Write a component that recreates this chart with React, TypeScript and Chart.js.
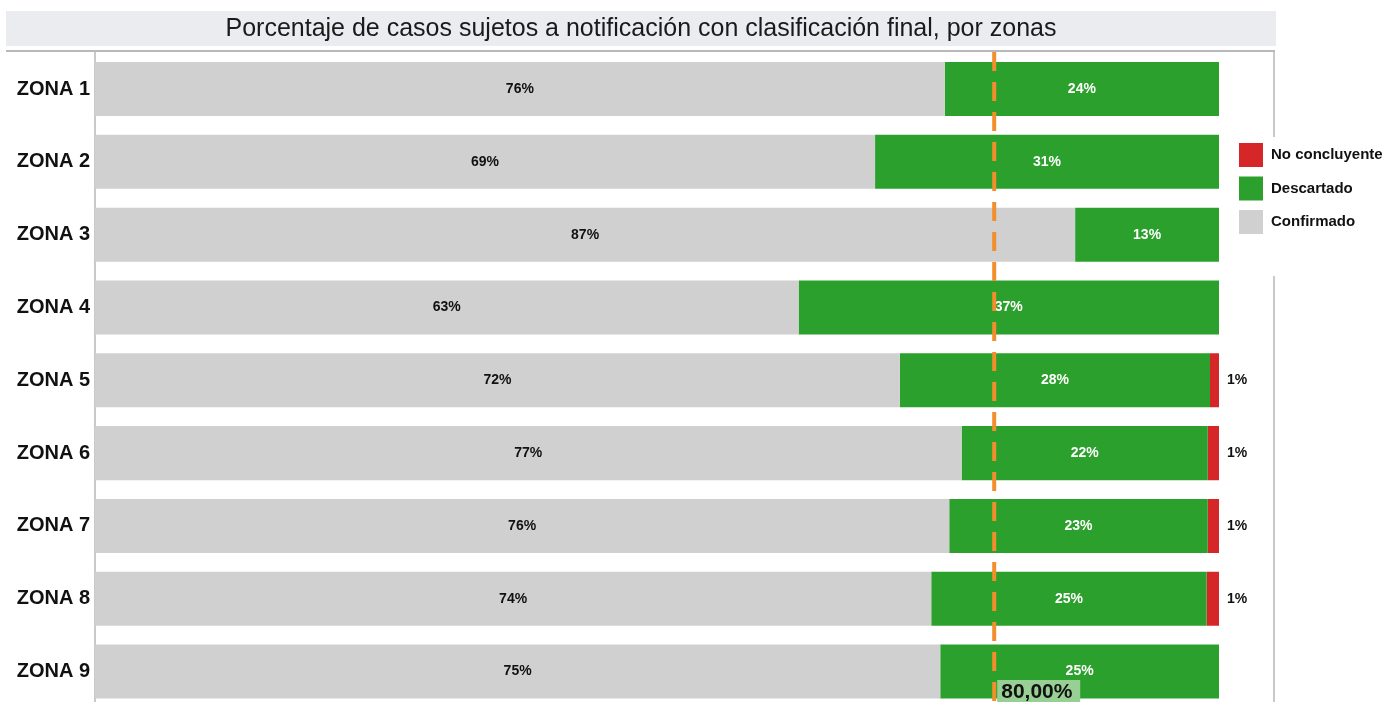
import React, { useEffect, useRef } from "react";
import { Chart, registerables } from "chart.js";

Chart.register(...registerables);

const TITLE = "Porcentaje de casos sujetos a notificación con clasificación final, por zonas";
const zones = ["ZONA 1", "ZONA 2", "ZONA 3", "ZONA 4", "ZONA 5", "ZONA 6", "ZONA 7", "ZONA 8", "ZONA 9"];
const confirmado = [75.6, 69.4, 87.2, 62.6, 71.6, 77.1, 76.0, 74.4, 75.2];
const descartado = [24.4, 30.6, 12.8, 37.4, 27.6, 21.9, 23.0, 24.5, 24.8];
const noConcluyente = [0, 0, 0, 0, 0.8, 1.0, 1.0, 1.1, 0];
const META = 80;
const META_LABEL = "80,00%";

const COLORS = { conf: "#d0d0d0", desc: "#2ca02c", nc: "#d62728" };
const FONT = "'Liberation Sans', Arial, sans-serif";

const decorPlugin = {
  id: "decor",
  beforeDraw(chart: any) {
    const { ctx, chartArea } = chart;
    ctx.save();
    ctx.fillStyle = "#ebecf0";
    ctx.fillRect(6, 11, 1270, 35);
    ctx.fillStyle = "#1a1a1a";
    ctx.font = `25px ${FONT}`;
    ctx.textAlign = "center";
    ctx.textBaseline = "middle";
    ctx.fillText(TITLE, 641, 29);
    ctx.strokeStyle = "#b8b8b8";
    ctx.lineWidth = 2;
    ctx.beginPath();
    ctx.moveTo(6, 51);
    ctx.lineTo(1275, 51);
    ctx.stroke();
    ctx.lineWidth = 1.5;
    ctx.beginPath();
    ctx.moveTo(chartArea.left, 51);
    ctx.lineTo(chartArea.left, chart.height);
    ctx.moveTo(1274, 51);
    ctx.lineTo(1274, 137);
    ctx.moveTo(1274, 276);
    ctx.lineTo(1274, chart.height);
    ctx.stroke();
    ctx.restore();
  },
  afterDatasetsDraw(chart: any) {
    const { ctx, chartArea } = chart;
    ctx.save();
    ctx.font = `bold 14px ${FONT}`;
    ctx.textBaseline = "middle";
    chart.data.datasets.forEach((ds: any, i: number) => {
      const meta = chart.getDatasetMeta(i);
      meta.data.forEach((bar: any, j: number) => {
        const v = ds.data[j];
        if (!v) return;
        const txt = Math.round(v) + "%";
        if (i === 2) {
          ctx.fillStyle = "#111";
          ctx.textAlign = "left";
          ctx.fillText(txt, chartArea.right + 8, bar.y);
        } else {
          ctx.fillStyle = i === 0 ? "#111" : "#ffffff";
          ctx.textAlign = "center";
          ctx.fillText(txt, (bar.x + bar.base) / 2, bar.y);
        }
      });
    });
    // meta line
    const xs = chart.scales.x.getPixelForValue(META);
    ctx.strokeStyle = "#f28e2b";
    ctx.lineWidth = 4;
    ctx.setLineDash([19, 11]);
    ctx.beginPath();
    ctx.moveTo(xs, 52);
    ctx.lineTo(xs, chart.height);
    ctx.stroke();
    ctx.setLineDash([]);
    ctx.fillStyle = "#98cf94";
    ctx.fillRect(xs + 3, 680, 83, 30);
    ctx.fillStyle = "#111";
    ctx.font = `bold 21px ${FONT}`;
    ctx.textAlign = "left";
    ctx.fillText(META_LABEL, xs + 7, 692);
    // legend
    const items = [
      ["No concluyente", COLORS.nc],
      ["Descartado", COLORS.desc],
      ["Confirmado", COLORS.conf],
    ];
    ctx.font = `bold 15px ${FONT}`;
    items.forEach((it, k) => {
      const y = 143 + k * 33.5;
      ctx.fillStyle = it[1];
      ctx.fillRect(1239, y, 24, 24);
      ctx.fillStyle = "#111";
      ctx.fillText(it[0], 1271, y + 12);
    });
    ctx.restore();
  },
};

export default function App() {
  const ref = useRef<HTMLCanvasElement>(null);
  useEffect(() => {
    if (!ref.current) return;
    const chart = new Chart(ref.current, {
      type: "bar",
      data: {
        labels: zones,
        datasets: [
          { label: "Confirmado", data: confirmado, backgroundColor: COLORS.conf },
          { label: "Descartado", data: descartado, backgroundColor: COLORS.desc },
          { label: "No concluyente", data: noConcluyente, backgroundColor: COLORS.nc },
        ],
      },
      options: {
        indexAxis: "y",
        responsive: false,
        animation: false,
        layout: { padding: { top: 52.6, right: 166, bottom: 0, left: 0 } },
        datasets: { bar: { categoryPercentage: 1, barPercentage: 0.742 } },
        scales: {
          x: { stacked: true, min: 0, max: 100, display: false },
          y: {
            stacked: true,
            grid: { display: false, drawTicks: false },
            border: { display: false },
            ticks: { color: "#111", font: { family: FONT, size: 20, weight: "bold" }, padding: 5 },
            afterFit(scale: any) {
              scale.width = 95;
              scale.paddingTop = 0;
              scale.paddingBottom = 0;
            },
          },
        },
        plugins: { legend: { display: false }, title: { display: false }, tooltip: { enabled: false } },
      },
      plugins: [decorPlugin],
    } as any);
    return () => chart.destroy();
  }, []);
  return (
    <div style={{ position: "absolute", left: 0, top: 0, width: 1385, height: 708, background: "#fff" }}>
      <canvas ref={ref} width={1385} height={708} />
    </div>
  );
}
